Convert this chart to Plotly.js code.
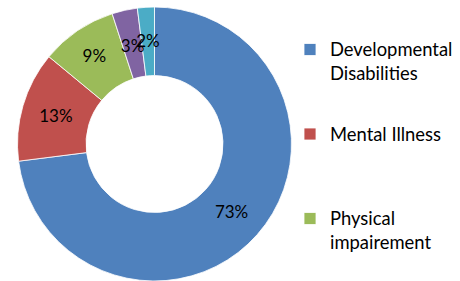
<!DOCTYPE html>
<html>
<head>
<meta charset="utf-8">
<script src="https://cdn.plot.ly/plotly-3.0.1.min.js"></script>
<style>
html,body{margin:0;padding:0;background:#fff;}
#chart{width:460px;height:281px;}
.legend .scrollbar{display:none;}
</style>
</head>
<body>
<div id="chart"></div>
<script>
// Data
var categories = [
  "Developmental<br>Disabilities",
  "Mental Illness",
  "Physical<br>impairement",
  "Sensory<br>impairement",
  "Other"
];
var values = [73, 13, 9, 3, 2];
var colors = ["#4F81BD", "#C0504D", "#9BBB59", "#8064A2", "#4BACC6"];

var FONT = "Lato, Carlito, Calibri, 'Open Sans', sans-serif";
var LEGEND_TEXT_SIZE = 18.4;
var LEGEND_BASE_SIZE = 6.27;
var NBSP = "\u00a0";

// legend label: 10 thin lines per entry so the entries are spaced like the reference
function legendLabel(cat) {
  var parts = cat.split("<br>");
  var lines = [];
  for (var i = 0; i < 10; i++) lines.push(NBSP);
  var slots = [5, 8];
  for (var j = 0; j < parts.length && j < slots.length; j++) {
    lines[slots[j]] = '<span style="font-size:' + LEGEND_TEXT_SIZE + 'px">' + parts[j] + '</span>';
  }
  return lines.join("<br>");
}
var labels = categories.map(legendLabel);

// main slices show the large labels; the two thin slices get theirs from an
// overlaid transparent ring so the labels sit near the middle of the ring
var mainText = values.map(function (v, i) { return i < 3 ? "%{percent}" : ""; });
var thinText = values.map(function (v, i) { return i >= 3 ? "%{percent}" : ""; });

var common = {
  type: "pie",
  labels: labels,
  values: values,
  sort: false,
  direction: "clockwise",
  rotation: 0,
  textposition: "inside",
  insidetextorientation: "horizontal",
  textfont: {family: FONT, size: 17, color: "#000000"},
  hoverinfo: "none"
};

var main = Object.assign({}, common, {
  hole: 0.5,
  domain: {x: [17/460, 292/460], y: [0, 0.975]},
  marker: {colors: colors, line: {color: "#ffffff", width: 0.8}},
  texttemplate: mainText
});

var thin = Object.assign({}, common, {
  hole: 0.5,
  showlegend: false,
  domain: {x: [(154.5-110)/460, (154.5+110)/460], y: [27/281, 247/281]},
  marker: {colors: values.map(function(){return "rgba(0,0,0,0)";}), line: {width: 0}},
  texttemplate: thinText
});

var layout = {
  width: 460,
  height: 281,
  margin: {l: 0, r: 0, t: 0, b: 0, autoexpand: false},
  paper_bgcolor: "#ffffff",
  plot_bgcolor: "#ffffff",
  font: {family: FONT, color: "#000000"},
  uniformtext: {minsize: 17, mode: "show"},
  showlegend: true,
  legend: {
    x: 297/460,
    xanchor: "left",
    y: 1 - 2.25/281,
    yanchor: "top",
    valign: "middle",
    indentation: -7,
    font: {family: FONT, size: LEGEND_BASE_SIZE, color: "#000000"},
    bgcolor: "rgba(0,0,0,0)",
    maxheight: 260
  }
};

Plotly.newPlot("chart", [main, thin], layout, {displayModeBar: false, staticPlot: true});
</script>
</body>
</html>
